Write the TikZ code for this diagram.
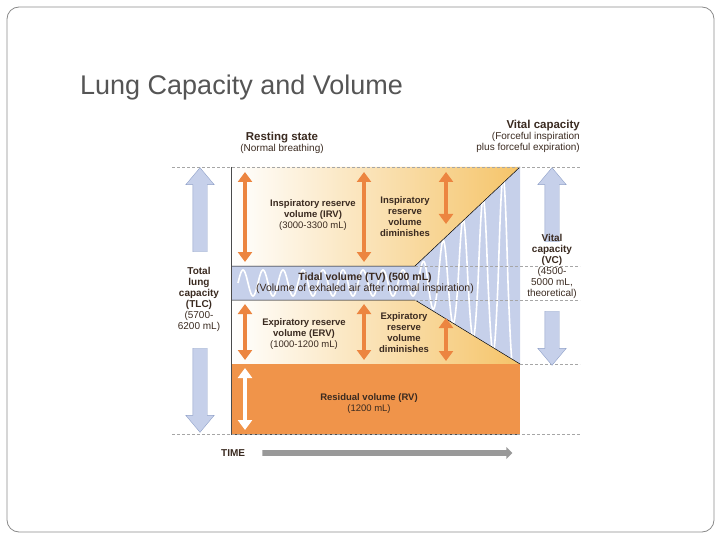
\documentclass[tikz,border=0pt]{standalone}
\usepackage{fontspec}
\setmainfont{Liberation Sans}
\usetikzlibrary{arrows.meta,shapes.arrows}
\definecolor{slidegray}{HTML}{8A8A8A}
\definecolor{titlegray}{HTML}{555555}
\definecolor{lungblue}{HTML}{C6D0EA}
\definecolor{arrblue}{HTML}{8FA0C8}
\definecolor{lungyellow}{HTML}{F5C469}
\definecolor{lungorange}{HTML}{F0944A}
\definecolor{arrorange}{HTML}{EC8540}
\definecolor{txt}{HTML}{3A2A20}
\tikzset{
  lbl/.style={align=center,font=\fontsize{9.5}{11}\selectfont,text=txt,inner sep=1pt},
  vol/.style={<->,line width=4.5pt,arrorange,>={Triangle[width=14pt,length=10pt]}},
  bigarr/.style={single arrow,draw=arrblue,fill=lungblue,minimum height=#1,
    single arrow head extend=7pt,minimum width=14pt,single arrow tip angle=80,inner sep=7pt},
  guide/.style={densely dashed,gray!70,line width=0.5pt}
}
\begin{document}
\begin{tikzpicture}[x=1pt,y=-1pt]
  \useasboundingbox (0,0) rectangle (720,540);
  \draw[slidegray,line width=0.8pt,rounded corners=12pt] (7,7) rectangle (714,532);
  \node[anchor=base west,text=titlegray,font=\fontsize{27}{30}\selectfont,inner sep=0] (title) at (80,95) {Lung Capacity and Volume};

  % regions of the chart
  \shade[left color=white,right color=lungyellow] (231,167) -- (520,167) -- (415,266) -- (231,266) -- cycle;
  \shade[left color=white,right color=lungyellow] (231,300) -- (415,300) -- (520,364) -- (231,364) -- cycle;
  \fill[lungblue] (231,266) -- (415,266) -- (520,167) -- (520,364) -- (415,300) -- (231,300) -- cycle;
  \fill[lungorange] (231,364) rectangle (520,434);
  \begin{scope}
    \clip (231,266) -- (415,266) -- (520,167) -- (520,364) -- (415,300) -- (231,300) -- cycle;
    \draw[white,line width=1.6pt] plot[domain=238:513,samples=700]
      (\x,{283-sin(18*(\x-238))*ifthenelse(\x<415,13,ifthenelse(sin(18*(\x-238))>0,13+(\x-415)*1.05,13+(\x-415)*0.72))});
  \end{scope}
  \draw[black,line width=0.5pt] (231,266) -- (415,266) -- (520,167);
  \draw[black,line width=0.5pt] (231,300) -- (415,300) -- (520,364);
  \draw[black!70,line width=0.5pt] (231,167) -- (231,434) -- (520,434);

  % guide lines
  \draw[guide] (172,167) -- (580,167);
  \draw[guide] (415,266) -- (580,266);
  \draw[guide] (415,300) -- (580,300);
  \draw[guide] (520,364) -- (580,364);
  \draw[guide] (172,434) -- (580,434);

  % volume arrows
  \coordinate (irvA) at (245,172); \coordinate (irvB) at (245,262);
  \coordinate (irvC) at (364,172); \coordinate (irvD) at (364,262);
  \coordinate (irvE) at (446,172); \coordinate (irvF) at (446,224);
  \coordinate (ervA) at (245,304); \coordinate (ervB) at (245,360);
  \coordinate (ervC) at (364,304); \coordinate (ervD) at (364,360);
  \coordinate (ervE) at (446,318); \coordinate (ervF) at (446,361);
  \coordinate (rvA) at (245,368); \coordinate (rvB) at (245,430);
  \foreach \from/\to in {irvA/irvB,irvC/irvD,irvE/irvF,ervA/ervB,ervC/ervD,ervE/ervF}
    \draw[vol] (\from) -- (\to);
  \draw[vol,white] (rvA) -- (rvB);

  % big blue arrows
  \node[bigarr=84pt,rotate=90] (tlcUp) at (200,214) {};
  \node[bigarr=84pt,rotate=-90] (tlcDown) at (200,386) {};
  \node[bigarr=74pt,rotate=90] (vcUp) at (552,209) {};
  \node[bigarr=54pt,rotate=-90] (vcDown) at (552,334) {};
  \node[single arrow,fill=gray!80,minimum height=250pt,minimum width=12pt,
    single arrow head extend=3pt,inner sep=2.5pt] (timeArr) at (386,453) {};

  % labels
  \node[lbl] (rest) at (282,143) {\fontsize{11.5}{13}\selectfont\bfseries Resting state\\\fontsize{10}{11}\selectfont(Normal breathing)};
  \node[lbl,align=right,anchor=east] (vital) at (581,136) {\fontsize{11.5}{13}\selectfont\bfseries Vital capacity\\\fontsize{10}{11}\selectfont(Forceful inspiration\\\fontsize{10}{11}\selectfont plus forceful expiration)};
  \node[lbl] (irv) at (313,215) {\bfseries Inspiratory reserve\\\bfseries volume (IRV)\\(3000-3300 mL)};
  \node[lbl] (irvDim) at (405,217) {\bfseries Inspiratory\\\bfseries reserve\\\bfseries volume\\\bfseries diminishes};
  \node[lbl] (tv) at (365,283) {\fontsize{10.5}{12}\selectfont\bfseries Tidal volume (TV) (500 mL)\\\fontsize{10.5}{12}\selectfont(Volume of exhaled air after normal inspiration)};
  \node[lbl] (erv) at (304,334) {\bfseries Expiratory reserve\\\bfseries volume (ERV)\\(1000-1200 mL)};
  \node[lbl] (ervDim) at (404,333) {\bfseries Expiratory\\\bfseries reserve\\\bfseries volume\\\bfseries diminishes};
  \node[lbl] (rv) at (369,404) {\bfseries Residual volume (RV)\\(1200 mL)};
  \node[lbl] (tlc) at (199,299) {\fontsize{10}{12}\selectfont\bfseries Total\\\fontsize{10}{12}\selectfont\bfseries lung\\\fontsize{10}{12}\selectfont\bfseries capacity\\\fontsize{10}{12}\selectfont\bfseries (TLC)\\\fontsize{10}{12}\selectfont(5700-\\\fontsize{10}{12}\selectfont 6200 mL)};
  \node[lbl] (vc) at (552,266) {\fontsize{10}{12}\selectfont\bfseries Vital\\\fontsize{10}{12}\selectfont\bfseries capacity\\\fontsize{10}{12}\selectfont\bfseries (VC)\\\fontsize{10}{12}\selectfont(4500-\\\fontsize{10}{12}\selectfont 5000 mL,\\\fontsize{10}{12}\selectfont theoretical)};
  \node[lbl,anchor=west] (time) at (220,453) {\fontsize{10}{12}\selectfont\bfseries TIME};
\end{tikzpicture}
\end{document}
